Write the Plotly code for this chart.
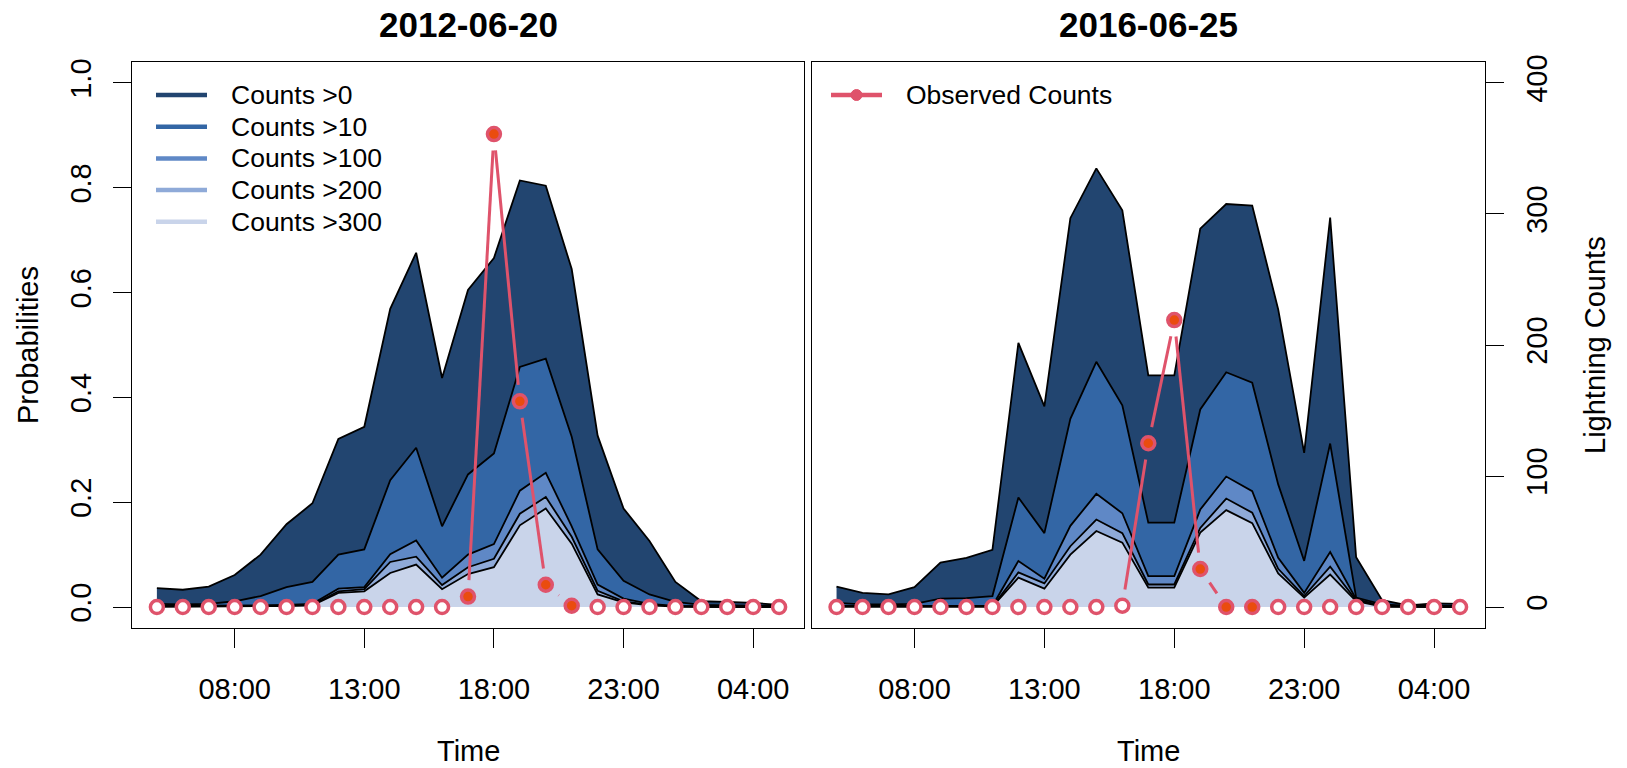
import math
import plotly.graph_objects as go

# ---------------------------------------------------------------- data
time_labels = ["05:00", "06:00", "07:00", "08:00", "09:00", "10:00", "11:00",
               "12:00", "13:00", "14:00", "15:00", "16:00", "17:00", "18:00",
               "19:00", "20:00", "21:00", "22:00", "23:00", "00:00", "01:00",
               "02:00", "03:00", "04:00", "05:00"]
tick_labels = ["08:00", "13:00", "18:00", "23:00", "04:00"]

layer_names = ["Counts >0", "Counts >10", "Counts >100", "Counts >200", "Counts >300"]

# exceedance probabilities, 2012-06-20
p0_2012 = [0.036, 0.033, 0.039, 0.061, 0.100, 0.158, 0.198, 0.321, 0.344, 0.569,
           0.676, 0.437, 0.605, 0.666, 0.814, 0.804, 0.645, 0.327, 0.188, 0.126,
           0.048, 0.011, 0.010, 0.008, 0.004]
p10_2012 = [0.006, 0.005, 0.006, 0.011, 0.021, 0.038, 0.048, 0.100, 0.110, 0.242,
            0.304, 0.154, 0.253, 0.293, 0.458, 0.474, 0.325, 0.110, 0.050, 0.024,
            0.010, 0.004, 0.003, 0.003, 0.002]
p100_2012 = [0.002, 0.002, 0.002, 0.002, 0.003, 0.004, 0.006, 0.035, 0.038, 0.101,
             0.127, 0.056, 0.100, 0.120, 0.222, 0.256, 0.154, 0.043, 0.016, 0.006,
             0.002, 0.001, 0.001, 0.001, 0.001]
p200_2012 = [0.001, 0.001, 0.001, 0.001, 0.002, 0.003, 0.004, 0.030, 0.034, 0.086,
             0.096, 0.042, 0.076, 0.092, 0.178, 0.210, 0.134, 0.031, 0.011, 0.004,
             0.001, 0.001, 0.001, 0.001, 0.001]
p300_2012 = [0.001, 0.001, 0.001, 0.001, 0.001, 0.002, 0.003, 0.027, 0.030, 0.065,
             0.081, 0.034, 0.063, 0.076, 0.156, 0.188, 0.121, 0.024, 0.009, 0.003,
             0.001, 0.000, 0.000, 0.000, 0.000]

# exceedance probabilities, 2016-06-25
p0_2016 = [0.039, 0.027, 0.024, 0.038, 0.085, 0.094, 0.109, 0.504, 0.383, 0.742,
           0.837, 0.757, 0.442, 0.442, 0.722, 0.769, 0.766, 0.568, 0.294, 0.743,
           0.095, 0.013, 0.003, 0.007, 0.006]
p10_2016 = [0.008, 0.005, 0.005, 0.006, 0.016, 0.017, 0.021, 0.209, 0.141, 0.359,
            0.468, 0.385, 0.161, 0.161, 0.377, 0.448, 0.428, 0.234, 0.088, 0.312,
            0.018, 0.005, 0.002, 0.002, 0.002]
p100_2016 = [0.002, 0.002, 0.002, 0.002, 0.002, 0.002, 0.002, 0.088, 0.054, 0.155,
             0.216, 0.179, 0.059, 0.059, 0.186, 0.249, 0.221, 0.094, 0.027, 0.105,
             0.015, 0.002, 0.001, 0.001, 0.001]
p200_2016 = [0.001, 0.001, 0.001, 0.001, 0.001, 0.001, 0.001, 0.066, 0.045, 0.116,
             0.167, 0.141, 0.043, 0.043, 0.151, 0.207, 0.180, 0.073, 0.021, 0.077,
             0.013, 0.001, 0.001, 0.001, 0.001]
p300_2016 = [0.001, 0.001, 0.001, 0.001, 0.001, 0.001, 0.001, 0.056, 0.035, 0.100,
             0.145, 0.123, 0.037, 0.037, 0.142, 0.185, 0.160, 0.064, 0.018, 0.062,
             0.011, 0.001, 0.000, 0.000, 0.000]

# observed lightning counts per hour and the hours flagged as active
obs_2012 = [0, 0, 0, 0, 0, 0, 0, 0, 0, 0, 0, 0, 8, 361, 157, 17, 1,
            0, 0, 0, 0, 0, 0, 0, 0]
active_2012 = [0, 0, 0, 0, 0, 0, 0, 0, 0, 0, 0, 0, 1, 1, 1, 1, 1,
               0, 0, 0, 0, 0, 0, 0, 0]
obs_2016 = [0, 0, 0, 0, 0, 0, 0, 0, 0, 0, 0, 1, 125, 219, 29, 0, 0,
            0, 0, 0, 0, 0, 0, 0, 0]
active_2016 = [0, 0, 0, 0, 0, 0, 0, 0, 0, 0, 0, 0, 1, 1, 1, 1, 1,
               0, 0, 0, 0, 0, 0, 0, 0]

prob_ticks = [0.0, 0.2, 0.4, 0.6, 0.8, 1.0]
count_ticks = [0, 100, 200, 300, 400]

# ---------------------------------------------------------------- styling
FONT = "Liberation Sans, Arial, Helvetica, sans-serif"
layer_colors = ["#224570", "#3366A5", "#5F88C6", "#8FAAD8", "#C9D4EA"]
OBS_LINE = "#DF536B"
OBS_FILL = "#EA4C0E"

W, H = 1627, 768
ML, MR, MT, MB = 132, 142, 62, 140
PW, PH = W - ML - MR, H - MT - MB
PANEL_W = 672
dom_left = [0, PANEL_W / PW]
dom_right = [1 - (1485 - 811.6) / PW, 1]

idx = list(range(len(time_labels)))
x_pad = 0.04 * (idx[-1] - idx[0])
x_range = [idx[0] - x_pad, idx[-1] + x_pad]
p_range = [-0.04, 1.04]
c_range = [-16, 416]
tick_idx = [time_labels.index(t) for t in tick_labels[:-1]] + [len(time_labels) - 2]


def px_x(p):
    return (p - ML) / PW


def px_y(p):
    return (H - MB - p) / PH


def gapped(xv, yv, yspan, gap=16.5):
    """Segments between consecutive points, trimmed back from each point."""
    kx = PANEL_W / (x_range[1] - x_range[0])
    ky = PH / yspan
    xs, ys = [], []
    for i in range(len(xv) - 1):
        dx, dy = xv[i + 1] - xv[i], yv[i + 1] - yv[i]
        L = math.hypot(dx * kx, dy * ky)
        if L > 2 * gap:
            f = gap / L
            xs += [xv[i] + dx * f, xv[i + 1] - dx * f, None]
            ys += [yv[i] + dy * f, yv[i + 1] - dy * f, None]
    return xs, ys


fig = go.Figure()

panels = [
    ("x", "y", "y4", [p0_2012, p10_2012, p100_2012, p200_2012, p300_2012], obs_2012, active_2012),
    ("x2", "y2", "y3", [p0_2016, p10_2016, p100_2016, p200_2016, p300_2016], obs_2016, active_2016),
]

for xa, ya, ca, layers, obs, active in panels:
    for name, vals, col in zip(layer_names, layers, layer_colors):
        fig.add_trace(go.Scatter(
            x=idx, y=vals, xaxis=xa, yaxis=ya, mode="lines", name=name,
            fill="tozeroy", fillcolor=col,
            line=dict(color="black", width=1.8), showlegend=False, hoverinfo="skip"))
    sx, sy = gapped(idx, obs, c_range[1] - c_range[0])
    fig.add_trace(go.Scatter(
        x=sx, y=sy, xaxis=xa, yaxis=ca, mode="lines",
        line=dict(color=OBS_LINE, width=3), showlegend=False, hoverinfo="skip"))
    fig.add_trace(go.Scatter(
        x=idx, y=obs, xaxis=xa, yaxis=ca, mode="markers", name="Observed Counts",
        marker=dict(size=13, color=[OBS_FILL if a else "white" for a in active],
                    line=dict(color=OBS_LINE, width=3.5)),
        showlegend=False))

xaxis_style = dict(range=x_range, tickmode="array", tickvals=tick_idx, ticktext=tick_labels,
                   ticks="outside", ticklen=19, tickwidth=1.3, tickcolor="black",
                   showline=True, mirror=True, linecolor="black", linewidth=1.3,
                   showgrid=False, zeroline=False,
                   tickfont=dict(family=FONT, size=29, color="black"),
                   ticklabelstandoff=16)

fig.update_layout(
    width=W, height=H,
    margin=dict(l=ML, r=MR, t=MT, b=MB),
    paper_bgcolor="white", plot_bgcolor="white",
    showlegend=False,
    xaxis=dict(domain=dom_left, anchor="y", **xaxis_style),
    xaxis2=dict(domain=dom_right, anchor="y2", **xaxis_style),
    yaxis=dict(domain=[0, 1], anchor="x", range=p_range, tickmode="array",
               tickvals=prob_ticks, ticktext=[f"{v:.1f}" for v in prob_ticks],
               tickangle=-90, ticks="outside", ticklen=18, tickwidth=1.3, tickcolor="black",
               showline=True, mirror=True, linecolor="black", linewidth=1.3,
               showgrid=False, zeroline=False,
               tickfont=dict(family=FONT, size=29, color="black"), ticklabelstandoff=10),
    yaxis2=dict(domain=[0, 1], anchor="x2", range=p_range, showticklabels=False, ticks="",
                showline=True, mirror=True, linecolor="black", linewidth=1.3,
                showgrid=False, zeroline=False),
    yaxis3=dict(overlaying="y2", anchor="x2", side="right", range=c_range,
                tickmode="array", tickvals=count_ticks, ticktext=[str(v) for v in count_ticks],
                tickangle=-90, ticks="outside", ticklen=18, tickwidth=1.3, tickcolor="black",
                showline=False, showgrid=False, zeroline=False,
                tickfont=dict(family=FONT, size=29, color="black"), ticklabelstandoff=8),
    yaxis4=dict(overlaying="y", anchor="x", range=c_range, visible=False),
)

# ---------------------------------------------------------------- text
ann = []
left_c = (dom_left[0] + dom_left[1]) / 2
right_c = (dom_right[0] + dom_right[1]) / 2
for cx, title in [(left_c, "2012-06-20"), (right_c, "2016-06-25")]:
    ann.append(dict(x=cx, y=px_y(25), xref="paper", yref="paper", text=f"<b>{title}</b>",
                    showarrow=False, xanchor="center", yanchor="middle",
                    font=dict(family=FONT, size=35, color="black")))
    ann.append(dict(x=cx, y=px_y(751), xref="paper", yref="paper", text="Time",
                    showarrow=False, xanchor="center", yanchor="middle",
                    font=dict(family=FONT, size=29, color="black")))
ann.append(dict(x=px_x(28), y=0.5, xref="paper", yref="paper", text="Probabilities",
                textangle=-90, showarrow=False, xanchor="center", yanchor="middle",
                font=dict(family=FONT, size=29, color="black")))
ann.append(dict(x=px_x(1595), y=0.5, xref="paper", yref="paper", text="Lightning Counts",
                textangle=-90, showarrow=False, xanchor="center", yanchor="middle",
                font=dict(family=FONT, size=29, color="black")))

# legend of the probability layers (left panel)
shapes = []
for k, (name, col) in enumerate(zip(layer_names, layer_colors)):
    yy = 95 + 31.7 * k
    shapes.append(dict(type="line", xref="paper", yref="paper",
                       x0=px_x(156), x1=px_x(207), y0=px_y(yy), y1=px_y(yy),
                       line=dict(color=col, width=4.5)))
    ann.append(dict(x=px_x(229), y=px_y(yy), xref="paper", yref="paper", text=name,
                    showarrow=False, xanchor="left", yanchor="middle",
                    font=dict(family=FONT, size=26.5, color="black")))

# legend of the observed counts (right panel)
shapes.append(dict(type="line", xref="paper", yref="paper",
                   x0=px_x(831), x1=px_x(882), y0=px_y(95), y1=px_y(95),
                   line=dict(color=OBS_LINE, width=4.5)))
shapes.append(dict(type="circle", xref="paper", yref="paper",
                   x0=px_x(851), x1=px_x(862), y0=px_y(89.5), y1=px_y(100.5),
                   fillcolor=OBS_LINE, line=dict(color=OBS_LINE, width=1)))
ann.append(dict(x=px_x(904), y=px_y(95), xref="paper", yref="paper", text="Observed Counts",
                showarrow=False, xanchor="left", yanchor="middle",
                font=dict(family=FONT, size=26.5, color="black")))

fig.update_layout(annotations=ann, shapes=shapes)

fig.write_html("out.html")
